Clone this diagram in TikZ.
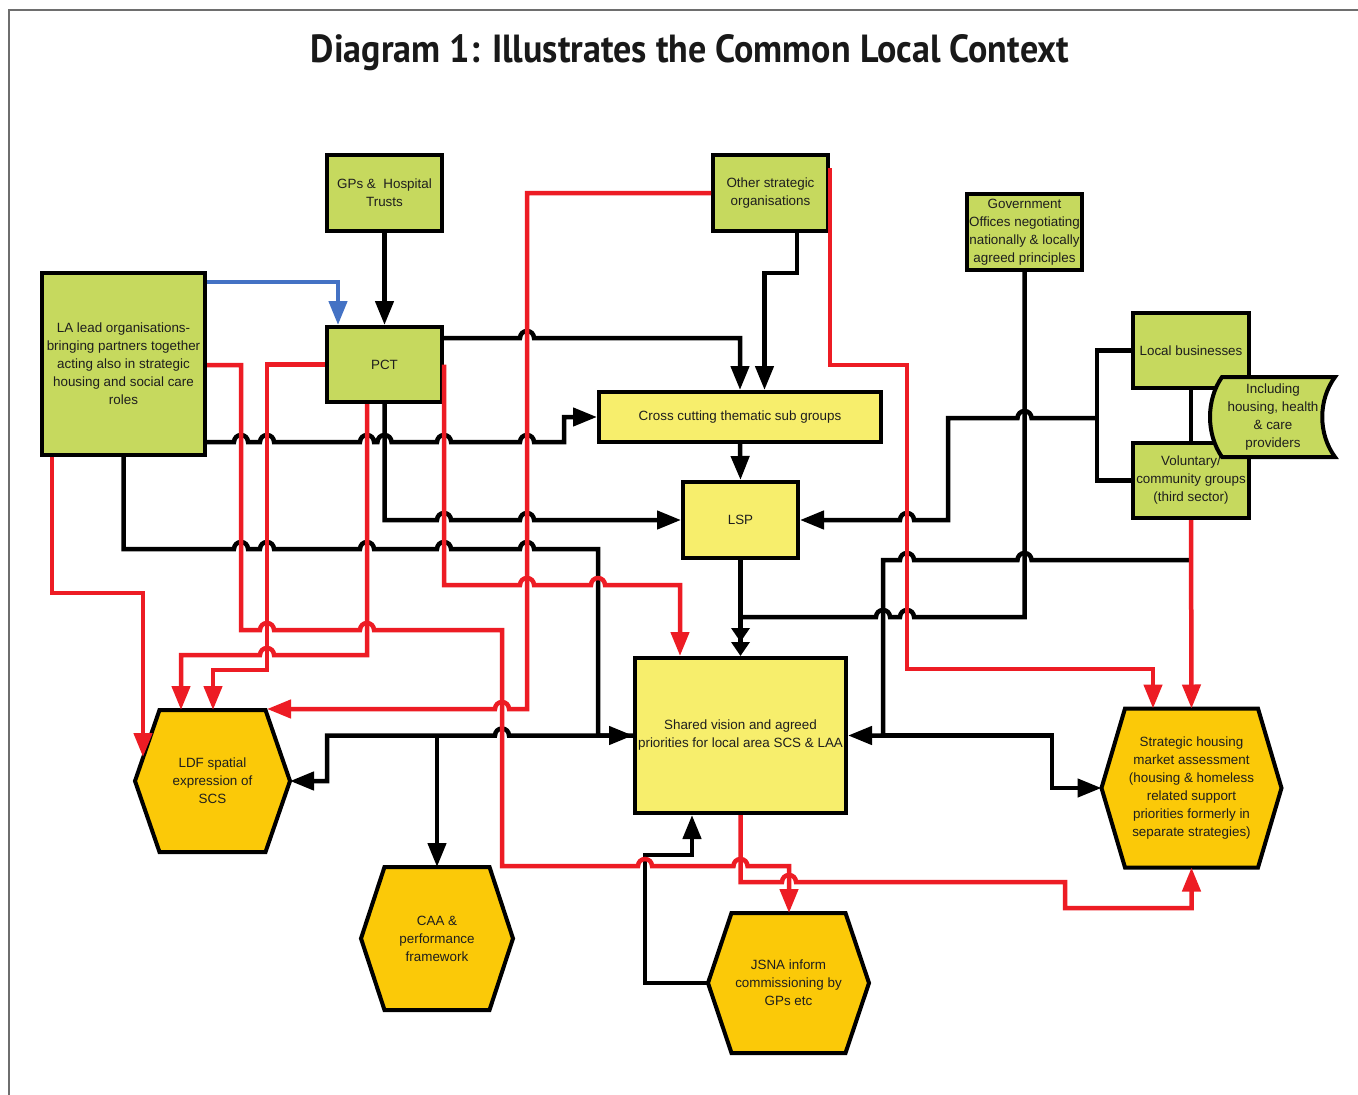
\documentclass[tikz,border=0pt]{standalone}
\usepackage{fontspec}
\usepackage{graphicx}
\setmainfont{Liberation Sans}
\newfontfamily\titlefont{PT Sans}
\usetikzlibrary{arrows.meta}
\definecolor{lgreen}{RGB}{198,217,94}
\definecolor{lyellow}{RGB}{247,238,108}
\definecolor{hexorange}{RGB}{251,201,8}
\definecolor{redc}{RGB}{237,28,36}
\definecolor{bluec}{RGB}{68,114,196}
\definecolor{txt}{RGB}{30,30,30}
\definecolor{framec}{RGB}{110,110,110}
\newcommand\hopR[2]{-- ({#1-7},#2) arc[start angle=180,end angle=0,radius=7pt]}
\newcommand\hopL[2]{-- ({#1+7},#2) arc[start angle=0,end angle=180,radius=7pt]}
\newcommand\hexnode[7]{%
  \draw[hexs] ({#2-#4},{#3-#6}) -- ({#2+#4},{#3-#6}) -- ({#2+#5},#3) -- ({#2+#4},{#3+#6}) -- ({#2-#4},{#3+#6}) -- ({#2-#5},#3) -- cycle;
  \node[hextext] (#1) at (#2,#3) {#7};}
\tikzset{
  box/.style={draw=black, line width=4pt, inner sep=1pt, align=center, text=txt, font=\fontsize{13.4}{18}\selectfont},
  gbox/.style={box, fill=lgreen},
  ybox/.style={box, fill=lyellow},
  hexs/.style={draw=black, line width=4pt, fill=hexorange},
  hextext/.style={align=center, text=txt, font=\fontsize{13.4}{18}\selectfont, inner sep=0pt},
  blk/.style={draw=black, line width=4.5pt},
  rd/.style={draw=redc, line width=4.5pt},
  bl/.style={draw=bluec, line width=4.5pt},
}
\begin{document}
\begin{tikzpicture}[x=1pt, y=-1pt, >={Triangle[length=24pt,width=18pt]}]
\fill[white] (0,0) rectangle (1358,1095);
\useasboundingbox (0,0) rectangle (1358,1095);
\draw[framec, line width=1.5pt] (9,1095) -- (9,10) -- (1358,10);
\node[anchor=base, text=black!90, inner sep=0pt] (title) at (690,62) {\resizebox{758pt}{28pt}{\titlefont\bfseries Diagram 1: Illustrates the Common Local Context}};

% boxes
\node[gbox, minimum width=115pt, minimum height=76pt] (gps) at (384.5,193) {GPs \& \ Hospital\\Trusts};
\node[gbox, minimum width=115pt, minimum height=76pt] (other) at (770.5,193) {Other strategic\\organisations};
\node[gbox, minimum width=115pt, minimum height=76pt] (gov) at (1024.5,232) {Government\\Offices negotiating\\nationally \& locally\\agreed principles};
\node[gbox, minimum width=163pt, minimum height=182pt] (la) at (123.5,364) {LA lead organisations-\\bringing partners together\\acting also in strategic\\housing and social care\\roles};
\node[gbox, minimum width=115pt, minimum height=75pt] (pct) at (384.5,364.5) {PCT};
\node[ybox, minimum width=282pt, minimum height=50pt] (cross) at (740,417) {Cross cutting thematic sub groups};
\node[ybox, minimum width=115pt, minimum height=76pt] (lsp) at (740.5,520) {LSP};
\node[gbox, minimum width=116pt, minimum height=75pt] (lb) at (1191,350.5) {Local businesses};
\node[gbox, minimum width=116pt, minimum height=75pt] (vol) at (1191,480.5) {Voluntary/\\community groups\\(third sector)};
\node[ybox, minimum width=211pt, minimum height=155pt] (shared) at (740.5,735.5) {Shared vision and agreed\\priorities for local area SCS \& LAA};

% hexagons
\hexnode{ldf}{212.5}{781}{53}{77.5}{71}{LDF spatial\\expression of\\SCS}
\hexnode{caa}{437}{938.5}{52.5}{76}{71.5}{CAA \&\\performance\\framework}
\hexnode{jsna}{788.5}{983}{57}{80.5}{70}{JSNA inform\\commissioning by\\GPs etc}
\hexnode{strat}{1191.5}{788}{66.5}{90}{79.5}{Strategic housing\\market assessment\\(housing \& homeless\\related support\\priorities formerly in\\separate strategies)}

\coordinate (ldfE) at (290,781);
\coordinate (ldfL) at (143,757);
\coordinate (ldfN1) at (181,710);
\coordinate (ldfN2) at (213,710);
\coordinate (ldfNE) at (267,709);
\coordinate (caaN) at (437,867);
\coordinate (jsnaN) at (789,913);
\coordinate (jsnaW) at (708,983);
\coordinate (stratW) at (1101.5,788);
\coordinate (stratN1) at (1153,708.5);
\coordinate (stratN2) at (1191.5,708.5);
\coordinate (stratS) at (1191.5,867.5);

% black connectors
\draw[blk,->] (gps.south) -- (pct.north);
\draw[blk,->] ([xshift=26.5pt]other.south) -- ++(0,40) -| ([xshift=24.5pt]cross.north);
\draw[blk,->] (pct.east |- 0,338) \hopR{527}{338} -| (cross.north);
\draw[blk,->] (cross.south) -- (lsp.north);
\draw[blk,->] (la.east |- 0,442) \hopR{241}{442} \hopR{267}{442} \hopR{367}{442} \hopR{384.5}{442} \hopR{444}{442} \hopR{527}{442} -- (564,442) |- (cross.west);
\draw[blk,->] (pct.south) -- (384.5,520) \hopR{444}{520} \hopR{527}{520} -- (lsp.west);
\draw[blk,->] (la.south) -- (123.5,549) \hopR{241}{549} \hopR{267}{549} \hopR{367}{549} \hopR{444}{549} \hopR{527}{549} -- (598,549) |- (shared.west);
\draw[blk,->] (shared.west) \hopL{502}{735.5} -- (327,735.5) |- (ldfE);
\draw[blk,->] (437,735.5) -- (caaN);
\draw[blk,-{Triangle[length=14pt,width=18pt]Triangle[length=14pt,width=18pt]}] (lsp.south) -- (shared.north);
\draw[blk] (gov.south) -- (1024.5,617) \hopL{907}{617} \hopL{883}{617} -- (740.5,617);
\draw[blk] (lb.west) -- (1097,350.5) -- (1097,480.5) -- (vol.west);
\draw[blk] (lb.south) -- (vol.north);
\draw[blk,->] (1097,418) \hopL{1024.5}{418} -- (948,418) -- (948,520) \hopL{907}{520} -- (lsp.east);
\draw[blk,->] (vol.south |- 0,560) \hopL{1024.5}{560} \hopL{907}{560} -- (883,560) |- (shared.east);
\draw[blk,->] (883,735.5) -- (1052,735.5) |- (stratW);
\draw[blk,->] (jsnaW) -- (645,983) -- (645,855) -| ([xshift=-48.5pt]shared.south);

% red connectors
\draw[rd,->] (52,0 |- la.south) -- (52,593) -- (143,593) -- (ldfL);
\draw[rd,->] (la.east |- 0,365) -- (241,365) -- (241,630) \hopR{267}{630} \hopR{367}{630} -- (502,630) -- (502,866) \hopR{645}{866} \hopR{740.5}{866} -- (789,866) -- (jsnaN);
\draw[rd,->] (shared.south) -- (740.5,882) \hopR{789}{882} -- (1065,882) -- (1065,908) -- (1191.5,908) -- (stratS);
\draw[rd,->] (other.east |- 0,168) -- (830,365) -- (907,365) -- (907,669) -- (1153,669) -- (stratN1);
\draw[rd,->] (vol.south) -- (stratN2);
\draw[rd,->] (pct.west) -- (267,364.5) -- (267,670) -- (213,670) -- (ldfN2);
\draw[rd,->] (367,0 |- pct.south) -- (367,655) \hopL{267}{655} -- (181,655) -- (ldfN1);
\draw[rd,->] (pct.east) -- (444,585) \hopR{527}{585} \hopR{598}{585} -- (680,585) -| ([xshift=-60.5pt]shared.north);
\draw[rd,->] (other.west) -- (527,193) -- (527,709) \hopL{502}{709} -- (ldfNE);

% blue connector
\draw[bl,->] (la.east |- 0,282) -- (338,282) -- ([xshift=-46.5pt]pct.north);

% including shape
\draw[draw=black, line width=4pt, fill=lgreen] (1222,377) -- (1335,377) .. controls (1318,400) and (1318,434) .. (1335,457) -- (1222,457) .. controls (1206,434) and (1206,400) .. (1222,377) -- cycle;
\node[hextext] (incl) at (1273,417) {Including\\housing, health\\\& care\\providers};
\end{tikzpicture}
\end{document}
